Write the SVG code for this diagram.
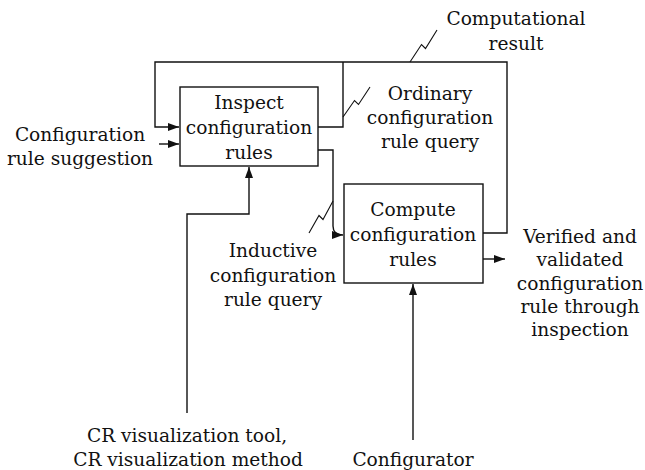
<svg xmlns="http://www.w3.org/2000/svg" width="645" height="470" viewBox="0 0 645 470">
<style>
text{font-family:"DejaVu Serif","Liberation Serif",serif;font-size:18.6px;fill:#111;text-anchor:middle}
.box{fill:#fff;stroke:#111;stroke-width:1.4}
.ln{fill:none;stroke:#111;stroke-width:1.4}
.zz{fill:none;stroke:#111;stroke-width:1.1}
</style>
<defs>
<marker id="ah" markerUnits="userSpaceOnUse" markerWidth="12" markerHeight="10" refX="11" refY="4" orient="auto">
<path d="M0,0 L11,4 L0,8 Z" fill="#111"/>
</marker>
</defs>
<g id="connectors">
<path class="ln" d="M483,233 H507 V62 H155 V127 H179" marker-end="url(#ah)"/>
<path class="ln" d="M318,127 H343 V62"/>
<path class="ln" d="M318,150 H333 V226 Q333,235 343,235" marker-end="url(#ah)"/>
<path class="ln" d="M159,144 H179" marker-end="url(#ah)"/>
<path class="ln" d="M187,413 V214 H249 V167" marker-end="url(#ah)"/>
<path class="ln" d="M413,440 V284" marker-end="url(#ah)"/>
<path class="ln" d="M483,259 H505" marker-end="url(#ah)"/>
<polyline class="zz" points="410,62 421.5,44.5 425.5,48.5 437,30"/>
<polyline class="zz" points="343,117 354.5,100.5 358.5,104.5 370,87"/>
<polyline class="zz" points="309,233 319,215.5 323,219.5 333,201"/>
</g>
<g id="inspect">
<rect class="box" x="180" y="87" width="138" height="79"/>
<text x="249" y="109">Inspect</text>
<text x="249" y="134">configuration</text>
<text x="249" y="159">rules</text>
</g>
<g id="compute">
<rect class="box" x="344" y="184" width="139" height="99"/>
<text x="413" y="216">Compute</text>
<text x="413" y="241">configuration</text>
<text x="413" y="266">rules</text>
</g>
<g id="labels">
<text x="516" y="25">Computational</text>
<text x="516" y="50">result</text>
<text x="430" y="100">Ordinary</text>
<text x="430" y="124">configuration</text>
<text x="430" y="148">rule query</text>
<text x="80" y="141">Configuration</text>
<text x="80" y="165">rule suggestion</text>
<text x="273" y="257">Inductive</text>
<text x="273" y="282">configuration</text>
<text x="273" y="306">rule query</text>
<text x="580" y="243">Verified and</text>
<text x="580" y="266">validated</text>
<text x="580" y="290">configuration</text>
<text x="580" y="313">rule through</text>
<text x="580" y="336">inspection</text>
<text x="187" y="442">CR visualization tool,</text>
<text x="188" y="466">CR visualization method</text>
<text x="413" y="466">Configurator</text>
</g>
</svg>
